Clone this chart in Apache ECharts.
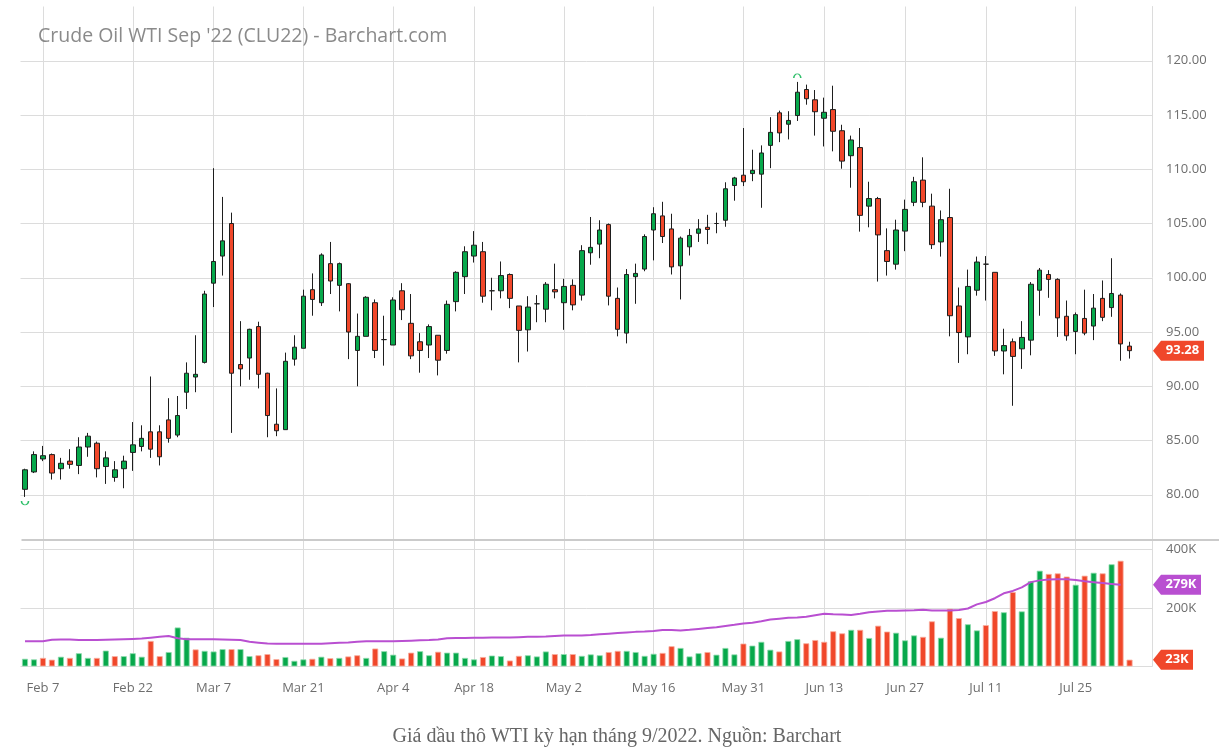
<!DOCTYPE html>
<html><head><meta charset="utf-8">
<script src="https://cdn.jsdelivr.net/npm/echarts@6/dist/echarts.min.js"></script>
<style>html,body{margin:0;padding:0;background:#fff}#c{width:1219px;height:756px}</style>
</head><body><div id="c"></div>
<script>
// ---------- DATA ----------
const dates = [
 'Feb 3','Feb 4','Feb 7','Feb 8','Feb 9','Feb 10','Feb 11','Feb 14','Feb 15','Feb 16','Feb 17','Feb 18','Feb 22','Feb 23','Feb 24','Feb 25','Feb 28',
 'Mar 1','Mar 2','Mar 3','Mar 4','Mar 7','Mar 8','Mar 9','Mar 10','Mar 11','Mar 14','Mar 15','Mar 16','Mar 17','Mar 18','Mar 21','Mar 22','Mar 23','Mar 24','Mar 25','Mar 28','Mar 29','Mar 30','Mar 31',
 'Apr 1','Apr 4','Apr 5','Apr 6','Apr 7','Apr 8','Apr 11','Apr 12','Apr 13','Apr 14','Apr 18','Apr 19','Apr 20','Apr 21','Apr 22','Apr 25','Apr 26','Apr 27','Apr 28','Apr 29',
 'May 2','May 3','May 4','May 5','May 6','May 9','May 10','May 11','May 12','May 13','May 16','May 17','May 18','May 19','May 20','May 23','May 24','May 25','May 26','May 27','May 31',
 'Jun 1','Jun 2','Jun 3','Jun 6','Jun 7','Jun 8','Jun 9','Jun 10','Jun 13','Jun 14','Jun 15','Jun 16','Jun 17','Jun 21','Jun 22','Jun 23','Jun 24','Jun 27','Jun 28','Jun 29','Jun 30',
 'Jul 1','Jul 5','Jul 6','Jul 7','Jul 8','Jul 11','Jul 12','Jul 13','Jul 14','Jul 15','Jul 18','Jul 19','Jul 20','Jul 21','Jul 22','Jul 25','Jul 26','Jul 27','Jul 28','Jul 29',
 'Aug 1','Aug 2'
];
const padCategories = ['Aug 3','Aug 4'];
const opens = [
 80.5,82.1,83.3,83.7,82.4,83.1,82.7,84.4,84.75,82.6,81.6,82.4,83.9,84.45,85.8,85.8,86.9,
 85.5,89.45,90.85,92.2,99.5,102.0,105.0,92.0,92.6,95.5,91.2,86.5,86.0,92.5,93.5,98.9,97.7,101.3,99.3,99.45,93.3,94.6,97.7,
 94.3,93.8,98.8,95.8,94.1,93.8,94.7,93.3,97.8,100.1,102.0,102.4,98.8,98.8,100.3,97.4,95.2,97.6,97.1,98.9,
 97.7,99.3,98.4,102.3,103.1,104.9,98.1,94.9,100.1,100.8,104.4,105.7,104.5,101.1,102.85,104.1,104.65,105.0,105.3,108.5,109.45,
 109.6,109.55,112.2,115.2,114.15,114.95,117.35,116.4,114.7,115.5,113.55,111.25,112.0,106.6,107.3,102.5,101.25,104.3,106.95,109.0,106.6,
 103.3,105.55,97.4,94.55,98.85,101.25,100.5,93.25,94.1,93.45,94.25,98.85,100.3,99.85,96.45,95.05,96.25,95.55,98.1,97.25,
 98.4,93.7
];
const highs = [
 82.4,84.0,84.5,83.8,83.4,84.2,85.3,85.7,84.9,84.0,83.1,83.6,86.7,86.4,90.9,86.4,88.9,
 89.1,92.2,94.7,98.8,110.1,107.45,106.0,96.0,95.3,95.95,91.25,89.8,93.1,94.7,98.9,100.4,102.25,103.3,101.4,99.5,96.7,98.3,98.0,
 96.5,98.2,99.5,98.5,94.9,95.7,94.7,97.9,100.6,102.9,104.3,103.3,100.0,101.5,100.4,97.4,98.3,98.4,99.6,101.3,
 99.9,99.85,103.0,105.6,105.3,105.0,99.1,100.8,101.3,104.0,106.5,107.0,105.9,103.8,104.5,105.4,105.8,106.0,108.8,109.3,113.8,
 111.8,112.2,114.8,115.4,115.35,118.05,117.8,117.3,116.6,117.7,114.1,113.1,113.8,108.85,107.45,104.55,105.35,107.2,109.3,111.1,107.75,
 106.2,108.2,99.1,100.75,101.95,102.0,100.5,95.3,94.4,96.0,99.6,100.9,100.7,99.95,97.9,96.8,98.9,98.5,99.75,101.8,
 98.55,94.1
];
const lows = [
 79.8,82.0,83.1,81.4,81.4,82.4,81.9,83.5,81.6,81.0,81.2,80.6,82.2,84.0,83.4,82.7,84.8,
 85.3,87.9,89.45,92.1,97.3,100.2,85.7,90.0,90.6,89.8,85.3,85.4,86.0,91.9,93.5,96.5,97.4,98.5,96.9,92.5,90.0,94.6,92.6,
 91.9,93.8,96.1,92.5,91.25,92.6,91.0,93.0,96.9,98.5,101.4,97.7,97.0,98.1,97.2,92.2,93.2,95.9,95.9,98.1,
 95.2,97.0,97.9,101.2,101.8,97.45,94.6,93.95,97.6,100.6,101.6,103.2,100.3,98.0,102.05,103.3,103.1,104.1,104.7,107.1,108.45,
 108.9,106.45,110.1,112.5,112.75,114.45,115.95,113.1,112.1,111.65,110.05,108.3,104.25,104.65,99.65,100.2,100.75,102.45,106.6,106.5,102.65,
 101.95,94.6,92.15,92.95,98.35,97.9,92.8,91.1,88.2,91.6,92.85,96.5,98.15,94.55,94.2,92.95,94.7,94.25,96.0,96.4,
 92.35,92.55
];
const closes = [
 82.3,83.7,83.6,82.0,82.9,82.8,84.4,85.4,82.4,83.4,82.3,83.1,84.6,85.2,84.2,83.5,85.2,
 87.3,91.2,91.1,98.5,101.5,103.4,91.2,91.6,95.25,91.1,87.3,85.9,92.3,93.6,98.3,98.0,102.1,99.7,101.3,95.0,94.6,98.2,93.3,
 94.3,97.95,97.05,92.8,93.3,95.5,92.4,97.55,100.5,102.4,103.0,98.3,98.8,100.2,98.1,95.15,97.3,97.6,99.4,98.7,
 99.2,97.5,102.5,102.8,104.4,98.3,95.25,100.3,100.4,103.8,105.9,103.8,101.0,103.65,103.9,104.5,104.45,105.0,108.2,109.2,108.85,
 109.9,111.5,113.4,113.35,114.5,117.1,116.5,115.3,115.25,113.5,110.75,112.7,105.75,107.3,103.95,101.5,104.4,106.3,108.85,106.95,103.05,
 105.35,96.5,94.95,99.2,101.45,101.25,93.25,93.75,92.75,94.5,99.4,100.7,99.85,96.3,94.65,96.6,94.9,97.2,96.35,98.55,
 93.9,93.28
];
// volume in thousands of contracts
const volumes = [
 26,24,29,23,33,29,45,29,29,54,35,35,45,33,87,35,49,133,98,58,53,51,59,59,59,35,38,42,25,32,19,24,26,33,28,29,34,38,29,61,
 52,40,27,47,52,38,50,47,47,29,24,32,37,35,20,
 36,38,34,51,42,42,42,36,41,38,49,53,53,49,36,43,46,69,63,34,45,49,40,63,41,78,71,84,57,51,87,93,79,90,84,
 120,113,125,125,97,139,119,115,89,106,101,154,98,197,165,144,123,141,189,185,
 254,188,291,327,316,318,307,279,310,320,318,349,361,23
];
// volume moving average (thousands), as drawn
const volumeMA = [
 86,86,86,91,92,92,90,90,90,91,92,93,94,95,98,101,104,96,93,93,93,93,92,91,90,84,81,78,77,77,
 77,77,77,77,79,81,82,84,86,86,86,86,87,88,89,90,92,96,97,97,98,98,99,99,99,100,101,101,102,104,
 106,106,106,107,110,112,114,116,118,119,121,124,124,123,125,128,131,134,138,142,147,149,154,160,163,166,167,170,175,180,
 178,177,176,180,185,188,190,190,191,192,194,191,191,191,193,198,212,220,233,250,258,270,288,294,297,298,298,295,291,288,
 285,282,279,null
];
const dateTickLabels = ['Feb 7','Feb 22','Mar 7','Mar 21','Apr 4','Apr 18','May 2','May 16','May 31','Jun 13','Jun 27','Jul 11','Jul 25'];
const priceTickLabels = [80,85,90,95,100,105,110,115,120];
const volumeTickLabels = [200,400];
const titleText = "Crude Oil WTI Sep '22 (CLU22) - Barchart.com";
const captionText = 'Giá dầu thô WTI kỳ hạn tháng 9/2022. Nguồn: Barchart';

// ---------- STYLE / LAYOUT ----------
const GREEN = '#07a84b', RED = '#f0472a', PURPLE = '#b94fd1';
const GRID_LEFT = 20.5, GRID_WIDTH = 1131.5;
const GRID_RIGHT_X = GRID_LEFT + GRID_WIDTH;
const VOL_TOP = 540;
const gridColor = '#dcdcdc';
const labelColor = '#6e6e6e';
const FONT = '"Open Sans", "Noto Sans", sans-serif';

const categories = dates.concat(padCategories);
const tickSet = new Set(dateTickLabels);
const showTick = (idx, val) => tickSet.has(val);

const candleData = opens.map((o, i) => [o, closes[i], lows[i], highs[i]]);
const volData = volumes.map((v, i) => {
  const prev = i > 0 ? closes[i - 1] : opens[i];
  const up = closes[i] >= prev;
  return { value: v, itemStyle: { color: up ? GREEN : RED, borderColor: up ? '#8fdcae' : '#f9ad9e', borderWidth: 0.8 } };
});

// split line colours: hide the extreme (75 / 125) lines
const priceSplitColors = [];
for (let v = 75; v <= 125; v += 5) priceSplitColors.push(priceTickLabels.includes(v) ? gridColor : 'rgba(0,0,0,0)');

const chart = echarts.init(document.getElementById('c'), null, { renderer: 'canvas' });
const option = {
  animation: false,
  backgroundColor: '#fff',
  grid: [
    { left: GRID_LEFT, width: GRID_WIDTH, top: 6.5, height: 542.5 },
    { left: GRID_LEFT, width: GRID_WIDTH, top: VOL_TOP, height: 126.4 }
  ],
  xAxis: [
    { type: 'category', gridIndex: 0, data: categories, boundaryGap: true,
      axisLine: { show: false }, axisTick: { show: false }, axisLabel: { show: false, interval: showTick },
      splitLine: { show: true, interval: showTick, alignWithLabel: true, lineStyle: { color: gridColor, width: 1 } } },
    { type: 'category', gridIndex: 1, data: categories, boundaryGap: true,
      axisLine: { show: false }, axisTick: { show: false },
      axisLabel: { show: true, interval: showTick, color: labelColor, fontSize: 13, fontFamily: FONT, margin: 15 },
      splitLine: { show: true, interval: showTick, alignWithLabel: true, lineStyle: { color: gridColor, width: 1 } } }
  ],
  yAxis: [
    { type: 'value', gridIndex: 0, position: 'right', min: 75, max: 125, interval: 5, scale: true,
      axisLine: { show: true, lineStyle: { color: gridColor } }, axisTick: { show: false },
      axisLabel: { color: labelColor, fontSize: 13, fontFamily: FONT, margin: 14,
        formatter: v => priceTickLabels.includes(Math.round(v)) ? v.toFixed(2) : '' },
      splitLine: { show: true, lineStyle: { color: priceSplitColors, width: 1 } } },
    { type: 'value', gridIndex: 1, position: 'right', min: 0, max: 432, interval: 200,
      axisLine: { show: true, lineStyle: { color: gridColor } }, axisTick: { show: false },
      axisLabel: { color: labelColor, fontSize: 13, fontFamily: FONT, margin: 14, showMaxLabel: false,
        formatter: v => volumeTickLabels.includes(v) ? v + 'K' : '' },
      splitLine: { show: true, lineStyle: { color: [gridColor, gridColor, gridColor, 'rgba(0,0,0,0)'], width: 1 } } }
  ],
  series: [
    { type: 'candlestick', xAxisIndex: 0, yAxisIndex: 0, data: candleData, barWidth: 5,
      itemStyle: { color: GREEN, color0: RED, borderColor: '#1e1e1e', borderColor0: '#1e1e1e', borderWidth: 1 },
      markPoint: {
        silent: true,
        label: { show: false },
        data: [
          { type: 'max', valueDim: 'highest', symbol: 'path://M0 10 A10 10 0 0 1 20 10', symbolSize: [7, 4], symbolOffset: [0, -6],
            itemStyle: { color: 'none', borderColor: '#2fbf6a', borderWidth: 1.2 } },
          { type: 'min', valueDim: 'lowest', symbol: 'path://M0 0 A10 10 0 0 0 20 0', symbolSize: [7, 4], symbolOffset: [0, 6],
            itemStyle: { color: 'none', borderColor: '#2fbf6a', borderWidth: 1.2 } }
        ]
      } },
    { type: 'bar', xAxisIndex: 1, yAxisIndex: 1, data: volData, barWidth: 6 },
    { type: 'line', xAxisIndex: 1, yAxisIndex: 1, data: volumeMA, symbol: 'none', showSymbol: false,
      lineStyle: { color: PURPLE, width: 2 }, z: 5 }
  ]
};
chart.setOption(option);

function tag(yPix, text, color, width) {
  const x0 = GRID_RIGHT_X + 1, h = 20, p = 8;
  return { type: 'group', silent: true, z: 100, children: [
    { type: 'polygon', shape: { points: [[x0, yPix], [x0 + p, yPix - h / 2], [x0 + width, yPix - h / 2], [x0 + width, yPix + h / 2], [x0 + p, yPix + h / 2]] },
      style: { fill: color } },
    { type: 'text', x: x0 + p + (width - p) / 2, y: yPix,
      style: { text: text, fill: '#fff', font: 'bold 13px ' + FONT, textAlign: 'center', textVerticalAlign: 'middle', align: 'center', verticalAlign: 'middle' } }
  ]};
}
const lastClose = closes[closes.length - 1];
const lastVol = volumes[volumes.length - 1];
const maVals = volumeMA.filter(v => v != null);
const lastMA = maVals[maVals.length - 1];
const yPrice = chart.convertToPixel({ yAxisIndex: 0 }, lastClose);
const yMA = chart.convertToPixel({ yAxisIndex: 1 }, lastMA);
const yVol = chart.convertToPixel({ yAxisIndex: 1 }, lastVol);

chart.setOption({
  graphic: [
    { type: 'line', silent: true, z: 50,
      shape: { x1: GRID_LEFT + 1, y1: VOL_TOP, x2: 1219, y2: VOL_TOP },
      style: { stroke: '#cbcbcb', lineWidth: 2 } },
    { type: 'text', x: 38, y: 36, silent: true,
      style: { text: titleText, fill: '#8a8a8a', font: '19.5px ' + FONT, textVerticalAlign: 'middle', verticalAlign: 'middle' } },
    { type: 'text', x: 617, y: 737, silent: true,
      style: { text: captionText, fill: '#666', font: '20px "Liberation Serif", "DejaVu Serif", serif', textAlign: 'center', align: 'center', textVerticalAlign: 'middle', verticalAlign: 'middle' } },
    tag(yPrice, lastClose.toFixed(2), RED, 51),
    tag(yMA, lastMA + 'K', PURPLE, 48),
    tag(yVol, lastVol + 'K', RED, 40)
  ]
});
</script>
</body></html>
